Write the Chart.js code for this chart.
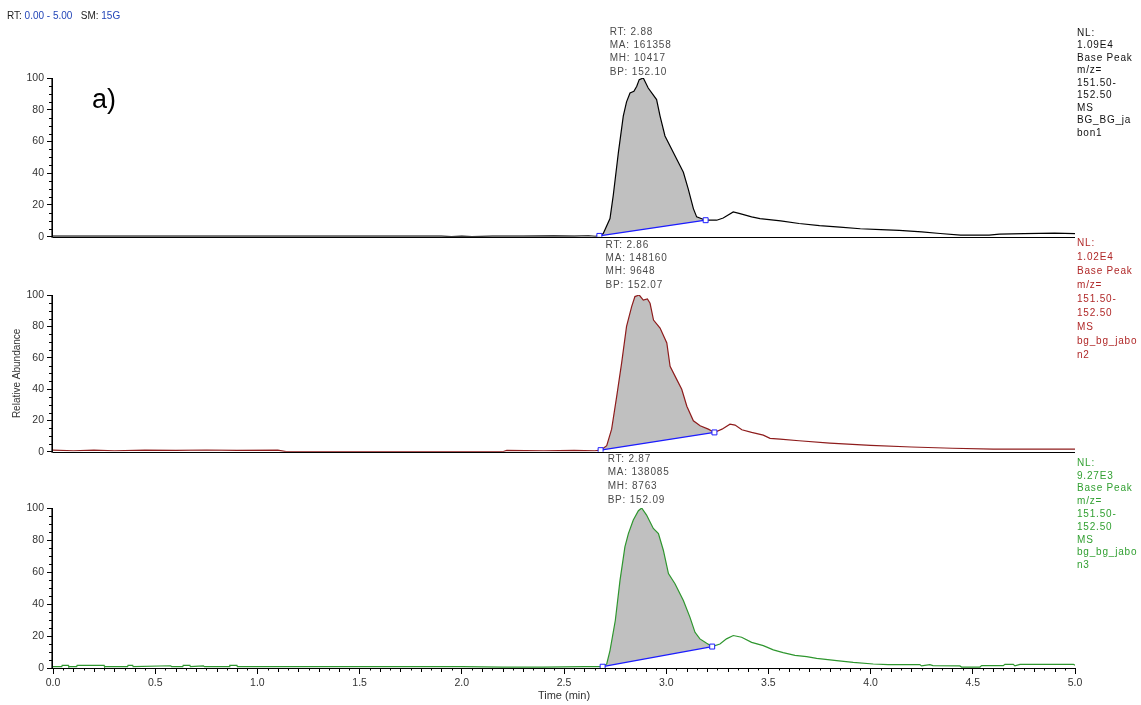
<!DOCTYPE html>
<html>
<head>
<meta charset="utf-8">
<script src="https://cdn.jsdelivr.net/npm/chart.js@4"></script>
<style>
  body { margin: 0; background: #fff; width: 1141px; height: 705px; position: relative; overflow: hidden; }
  canvas { position: absolute; left: 0; }
</style>
</head>
<body>
<canvas id="c1"></canvas>
<canvas id="c2"></canvas>
<canvas id="c3"></canvas>
<script>
const FONT = '"Liberation Sans", Arial, sans-serif';

// [time (min), relative abundance (%)]
const blackTrace = [
  [0, 0.4], [0.5, 0.4], [1.0, 0.4], [1.5, 0.4], [1.9, 0.4], [1.95, 0], [2.0, 0.4], [2.05, 0], [2.15, 0.4],
  [2.3, 0.3], [2.45, 0.5], [2.55, 0.3], [2.62, 0.6], [2.652, 0.3],
  [2.673, 0.5], [2.692, 2], [2.725, 11.4], [2.741, 26], [2.766, 53], [2.790, 76], [2.806, 85], [2.823, 90.6],
  [2.842, 91.6], [2.856, 94.8], [2.868, 99], [2.888, 100], [2.912, 93.7], [2.953, 86.4], [2.970, 76],
  [2.994, 63.5], [3.035, 53], [3.084, 40.6], [3.108, 30], [3.133, 17.7], [3.149, 12.5], [3.193, 10.4],
  [3.247, 10.4], [3.279, 11.8], [3.328, 15.6], [3.361, 14.5], [3.418, 12.5], [3.459, 11.4], [3.56, 10],
  [3.65, 8.3], [3.75, 7], [3.85, 6], [3.95, 5], [4.05, 4.5], [4.14, 4], [4.25, 3], [4.34, 2], [4.44, 1],
  [4.58, 1], [4.63, 1.6], [4.75, 2], [4.9, 2.2], [5.0, 2]
];
const redTrace = [
  [0, 1], [0.1, 0.6], [0.2, 1], [0.3, 0.6], [0.45, 1], [0.6, 0.8], [0.75, 1.1], [0.9, 0.8], [1.1, 1],
  [1.14, 0], [1.5, 0], [2.0, 0], [2.2, 0], [2.22, 0.8], [2.4, 0.6], [2.55, 0.8], [2.65, 0.6],
  [2.679, 1], [2.709, 3.8], [2.733, 14.4], [2.758, 35.5], [2.782, 56.7], [2.806, 80], [2.831, 92.6],
  [2.847, 99], [2.868, 100], [2.888, 96.8], [2.908, 97.5], [2.921, 94.7], [2.938, 84], [2.970, 78.9],
  [3.003, 69.4], [3.019, 54.5], [3.052, 46], [3.076, 39.8], [3.101, 29], [3.133, 19.7], [3.166, 16.5],
  [3.206, 14.4], [3.236, 12.3], [3.273, 14.4], [3.312, 17.6], [3.337, 17], [3.370, 14], [3.418, 12.3],
  [3.475, 10.6], [3.508, 8.5], [3.557, 8], [3.65, 7], [3.8, 5.5], [4.0, 4], [4.2, 3], [4.4, 2.2],
  [4.6, 1.6], [4.8, 1.6], [5.0, 1.6]
];
const greenTrace = [
  [0, 0.8], [0.043, 0.8], [0.045, 1.6], [0.075, 1.6], [0.077, 0.8], [0.116, 0.8], [0.118, 1.6], [0.25, 1.6],
  [0.252, 0.8], [0.365, 0.8], [0.367, 1.6], [0.39, 1.6], [0.392, 0.8], [0.576, 1.4], [0.58, 0.8],
  [0.635, 0.8], [0.637, 1.6], [0.67, 1.6], [0.672, 0.8], [0.736, 1.3], [0.74, 0.8], [0.863, 0.8],
  [0.865, 1.6], [0.9, 1.6], [0.902, 0.8], [1.5, 0.8], [2.0, 0.8], [2.2, 0.6], [2.4, 0.6], [2.6, 0.8],
  [2.689, 0.8], [2.709, 2.5], [2.725, 10.9], [2.751, 29.7], [2.774, 54.8], [2.798, 75.7], [2.815, 84],
  [2.839, 92.5], [2.864, 98.3], [2.880, 100], [2.904, 95.6], [2.937, 87.2], [2.962, 84], [2.986, 73.6],
  [3.011, 59], [3.043, 52.7], [3.084, 42.2], [3.116, 31.8], [3.141, 22.3], [3.165, 18.2], [3.198, 15.4],
  [3.225, 13.4], [3.263, 15], [3.295, 18.2], [3.328, 20.3], [3.369, 19.2], [3.418, 16], [3.475, 14],
  [3.524, 11.3], [3.572, 9.6], [3.630, 7.9], [3.687, 7.1], [3.736, 6], [3.834, 4.6], [3.915, 3.5],
  [4.013, 2.5], [4.086, 2.1], [4.241, 2.1], [4.249, 1.3], [4.29, 2.1], [4.305, 1.5], [4.437, 1.3],
  [4.445, 0.6], [4.535, 0.6], [4.543, 1.5], [4.649, 1.5], [4.657, 2.3], [4.698, 2.3], [4.706, 1.3],
  [4.731, 2.3], [4.992, 2.3], [5.0, 1.7]
];

// integration baselines: start and end points
const blackBase = [[2.673, 0.5], [3.193, 10.4]];
const redBase = [[2.679, 1], [3.236, 12.3]];
const greenBase = [[2.689, 0.8], [3.225, 13.4]];

const peakRT = [2.88, 2.86, 2.87];
const blackPeak = ['RT: 2.88', 'MA: 161358', 'MH: 10417', 'BP: 152.10'];
const redPeak = ['RT: 2.86', 'MA: 148160', 'MH: 9648', 'BP: 152.07'];
const greenPeak = ['RT: 2.87', 'MA: 138085', 'MH: 8763', 'BP: 152.09'];

const blackInfo = ['NL:', '1.09E4', 'Base Peak', 'm/z=', '151.50-', '152.50', 'MS', 'BG_BG_ja', 'bon1'];
const redInfo = ['NL:', '1.02E4', 'Base Peak', 'm/z=', '151.50-', '152.50', 'MS', 'bg_bg_jabo', 'n2'];
const greenInfo = ['NL:', '9.27E3', 'Base Peak', 'm/z=', '151.50-', '152.50', 'MS', 'bg_bg_jabo', 'n3'];

const xTicks = [0, 0.5, 1, 1.5, 2, 2.5, 3, 3.5, 4, 4.5, 5];
const yTicks = [0, 20, 40, 60, 80, 100];

const panels = [
  { id: 'c1', top: 0, height: 246, padTop: 78, padBottom: 8, trace: blackTrace, base: blackBase, rt: peakRT[0],
    peak: blackPeak, info: blackInfo, line: '#000000', text: '#111111',
    annY: 32, annStep: 13.3, infoY: 33, infoStep: 12.5, xAxis: false, yTitle: false, header: true },
  { id: 'c2', top: 238, height: 223, padTop: 57, padBottom: 8, trace: redTrace, base: redBase, rt: peakRT[1],
    peak: redPeak, info: redInfo, line: '#8e1c1c', text: '#b02828',
    annY: 245, annStep: 13.3, infoY: 243, infoStep: 14, xAxis: false, yTitle: true, header: false },
  { id: 'c3', top: 452, height: 253, padTop: 56, padBottom: 0, trace: greenTrace, base: greenBase, rt: peakRT[2],
    peak: greenPeak, info: greenInfo, line: '#2e962e', text: '#32a032',
    annY: 459, annStep: 13.7, infoY: 463, infoStep: 12.8, xAxis: true, yTitle: false, header: false }
];

const toXY = arr => arr.map(p => ({ x: p[0], y: p[1] }));

function makeDeco(p) {
  return {
    id: 'deco_' + p.id,
    afterDatasetsDraw(chart) {
      const { ctx, chartArea: a, scales: { x, y } } = chart;
      const y0 = y.getPixelForValue(0);
      ctx.save();
      ctx.strokeStyle = '#000';
      // axis lines
      ctx.lineWidth = 1;
      ctx.beginPath();
      ctx.moveTo(a.left, Math.round(y0) + 0.5);
      ctx.lineTo(a.right, Math.round(y0) + 0.5);
      ctx.stroke();
      ctx.lineWidth = 1.6;
      ctx.beginPath();
      ctx.moveTo(a.left - 0.8, y0 + 1);
      ctx.lineTo(a.left - 0.8, y.getPixelForValue(100));
      ctx.stroke();
      // minor ticks
      ctx.lineWidth = 1;
      ctx.beginPath();
      for (let v = 5; v < 100; v += 5) {
        if (v % 20 === 0) continue;
        const yy = Math.round(y.getPixelForValue(v)) + 0.5;
        ctx.moveTo(a.left - 4, yy);
        ctx.lineTo(a.left, yy);
      }
      if (p.xAxis) {
        for (let k = 1; k < 100; k++) {
          if (k % 10 === 0) continue;
          const xx = Math.round(x.getPixelForValue(k * 0.05)) + 0.5;
          ctx.moveTo(xx, y0);
          ctx.lineTo(xx, y0 + (k % 2 === 0 ? 4 : 2.5));
        }
      }
      ctx.stroke();
      ctx.restore();
    },
    afterDraw(chart) {
      const { ctx, scales: { x } } = chart;
      ctx.save();
      ctx.textBaseline = 'middle';
      ctx.textAlign = 'left';
      ctx.font = '10px ' + FONT;
      ctx.letterSpacing = '0.8px';
      ctx.fillStyle = p.text;
      p.info.forEach((s, k) => ctx.fillText(s, 1077, p.infoY - p.top + k * p.infoStep));
      ctx.fillStyle = '#4a4a4a';
      const ax = x.getPixelForValue(p.rt) - 32;
      p.peak.forEach((s, k) => ctx.fillText(s, ax, p.annY - p.top + k * p.annStep));
      ctx.letterSpacing = '0px';
      if (p.header) {
        let hx = 7;
        [['RT: ', '#222'], ['0.00 - 5.00', '#2346b8'], ['   SM: ', '#222'], ['15G', '#2346b8']].forEach(([s, c]) => {
          ctx.fillStyle = c;
          ctx.fillText(s, hx, 16);
          hx += ctx.measureText(s).width;
        });
        ctx.fillStyle = '#000';
        ctx.textBaseline = 'alphabetic';
        ctx.font = '27px ' + FONT;
        ctx.fillText('a)', 92, 108);
      }
      ctx.restore();
    }
  };
}

panels.forEach(p => {
  const cv = document.getElementById(p.id);
  cv.width = 1141;
  cv.height = p.height;
  cv.style.top = p.top + 'px';
  const t0 = p.base[0][0], t1 = p.base[1][0];
  const area = p.trace.filter(d => d[0] >= t0 && d[0] <= t1);

  new Chart(cv, {
    type: 'line',
    data: {
      datasets: [
        { data: toXY(p.trace), borderColor: p.line, borderWidth: 1.2, pointRadius: 0, fill: false, order: 1 },
        { data: toXY(area), borderWidth: 0, borderColor: 'rgba(0,0,0,0)', backgroundColor: '#c0c0c0',
          pointRadius: 0, fill: 2, order: 2 },
        { data: toXY(p.base), borderColor: '#1c1cff', borderWidth: 1.3, pointStyle: 'rect', pointRadius: 3.5,
          pointBorderColor: '#1c1cff', pointBackgroundColor: '#ffffff', pointBorderWidth: 1, fill: false, order: 0 }
      ]
    },
    options: {
      responsive: false,
      animation: false,
      events: [],
      layout: { padding: { top: p.padTop, bottom: p.padBottom, left: 0, right: 66 } },
      plugins: { legend: { display: false }, tooltip: { enabled: false } },
      scales: {
        x: {
          type: 'linear', min: 0, max: 5, display: p.xAxis,
          afterBuildTicks: s => { s.ticks = xTicks.map(v => ({ value: v })); },
          afterFit: s => { s.height = p.xAxis ? 37 : 0; },
          grid: { drawOnChartArea: false, drawTicks: true, tickLength: 6, color: '#000' },
          border: { display: false },
          ticks: { font: { family: FONT, size: 10.5 }, color: '#333', padding: 3, maxRotation: 0, autoSkip: false,
                   callback: v => v.toFixed(1) },
          title: { display: true, text: 'Time (min)', font: { family: FONT, size: 11 }, color: '#333',
                   padding: { top: 0, bottom: 2 } }
        },
        y: {
          type: 'linear', min: 0, max: 100,
          afterBuildTicks: s => { s.ticks = yTicks.map(v => ({ value: v })); },
          afterFit: s => { s.width = 53; },
          grid: { drawOnChartArea: false, drawTicks: true, tickLength: 6, color: '#000' },
          border: { display: false },
          ticks: { font: { family: FONT, size: 10.5 }, color: '#333', padding: 3 },
          title: { display: p.yTitle, text: 'Relative Abundance', font: { family: FONT, size: 10 }, color: '#333',
                   padding: { top: 11, bottom: 0 } }
        }
      }
    },
    plugins: [makeDeco(p)]
  });
});
</script>
</body>
</html>
